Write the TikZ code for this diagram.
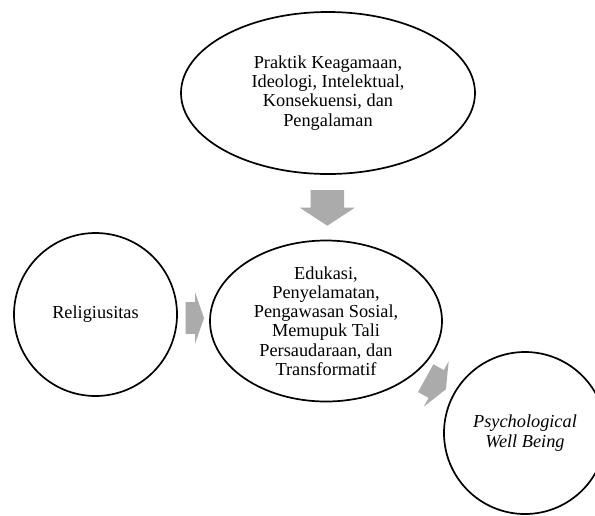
\documentclass[tikz,border=0pt]{standalone}
\usepackage{fontspec}
\setmainfont{Liberation Serif}
\usetikzlibrary{shapes.geometric}
% #1,#2 back midpoint; #3 rotation; #4 shaft length; #5 head length; #6 shaft width; #7 head width
\newcommand{\blkarrow}[7]{%
  \fill[blockarrow, shift={(#1,#2)}, rotate=#3]
    (0,{#6/2}) -- ({#4},{#6/2}) -- ({#4},{#7/2}) -- ({#4+#5},0)
    -- ({#4},{-#7/2}) -- ({#4},{-#6/2}) -- (0,{-#6/2}) -- cycle;}
\begin{document}
\begin{tikzpicture}[x=1pt,y=-1pt,
  bubble/.style={draw=black, line width=1.7pt, ellipse, inner sep=0pt,
    align=center, font=\fontsize{18.3}{19.2}\selectfont},
  blockarrow/.style={fill=black!33, draw=none}]
\useasboundingbox (0,0) rectangle (595,515);
\clip (0,0) rectangle (595,515);
\node[bubble, minimum width=294pt, minimum height=162pt] (top) at (328,93)
  {Praktik Keagamaan,\\Ideologi, Intelektual,\\Konsekuensi, dan\\Pengalaman};
\node[bubble, minimum width=232pt, minimum height=161pt] (mid) at (326,321)
  {Edukasi,\\Penyelamatan,\\Pengawasan Sosial,\\Memupuk Tali\\Persaudaraan, dan\\Transformatif};
\node[bubble, circle, minimum size=163pt] (rel) at (95.5,314.5) {Religiusitas};
\node[bubble, circle, minimum size=162pt] (pwb) at (525,433)
  {\itshape Psychological\\\itshape Well Being};
\blkarrow{327.3}{190}{-90}{17.7}{18}{33.6}{55}
\blkarrow{185.7}{318}{0}{9.3}{9}{31.6}{52}
\blkarrow{425.7}{378.2}{-28.7}{12}{11}{31.7}{52}
\end{tikzpicture}
\end{document}
